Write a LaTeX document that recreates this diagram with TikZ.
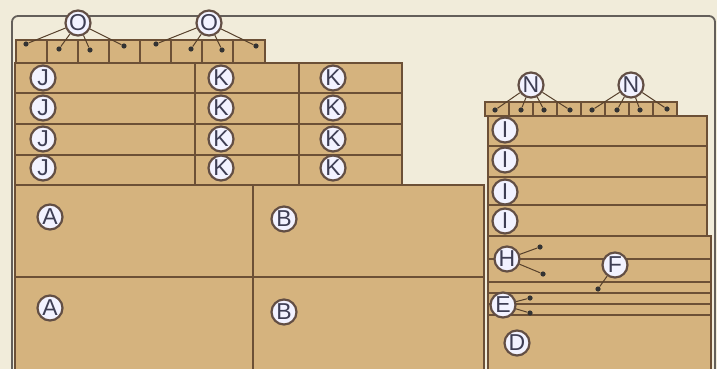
\documentclass[tikz,border=0pt]{standalone}
\usepackage{fontspec}
\setmainfont{Liberation Sans}
\definecolor{paper}{RGB}{241,236,218}
\definecolor{wood}{RGB}{213,179,126}
\definecolor{woodline}{RGB}{108,80,54}
\definecolor{ring}{RGB}{98,78,68}
\definecolor{ink}{RGB}{62,62,84}
\definecolor{frameline}{RGB}{100,95,90}

\begin{document}
\begin{tikzpicture}[x=0.5pt,y=-0.5pt,
  board/.style={fill=wood,draw=woodline,line width=0.6pt},
  seam/.style={draw=woodline,line width=0.6pt},
  tag/.style={circle,draw=ring,fill=white!95!blue,line width=1.1pt,minimum size=12.5pt,inner sep=0pt,text=ink,font=\fontsize{11.5}{12}\selectfont},
  pin/.style={circle,fill=black!80,inner sep=0pt,minimum size=2.6pt},
  lead/.style={draw=woodline!80!black,line width=0.5pt}]
  \useasboundingbox[fill=paper] (0,0) rectangle (717,369);
  \draw[frameline,line width=0.9pt,rounded corners=3pt] (12,375)--(12,16)--(715,16)--(715,375);
  % left stack
  \draw[board] (16,40) rectangle (265,63);
  \draw[seam] (47,40)--(47,63) (78,40)--(78,63) (109,40)--(109,63) (140,40)--(140,63);
  \draw[seam] (171,40)--(171,63) (202,40)--(202,63) (233,40)--(233,63);
  \draw[board] (15,63) rectangle (402,185);
  \draw[seam] (15,93)--(402,93) (15,124)--(402,124) (15,155)--(402,155);
  \draw[seam] (195,63)--(195,185) (299,63)--(299,185);
  \draw[board] (15,185) rectangle (484,375);
  \draw[seam] (15,277)--(484,277) (253,185)--(253,375);
  % right stack
  \draw[board] (485,102) rectangle (677,116);
  \draw[seam] (509,102)--(509,116) (533,102)--(533,116) (557,102)--(557,116) (581,102)--(581,116);
  \draw[seam] (605,102)--(605,116) (629,102)--(629,116) (653,102)--(653,116);
  \draw[board] (488,116) rectangle (707,236);
  \draw[seam] (488,146)--(707,146) (488,177)--(707,177) (488,205)--(707,205);
  \draw[board] (488,236) rectangle (711,375);
  \draw[seam] (488,259)--(711,259) (488,282)--(711,282) (488,293)--(711,293);
  \draw[seam] (488,304)--(711,304) (488,315)--(711,315);
  % pins
  \node[pin] (o1a) at (26,44) {};
  \node[pin] (o1b) at (59,49) {};
  \node[pin] (o1c) at (90,50) {};
  \node[pin] (o1d) at (124,46) {};
  \node[pin] (o2a) at (156,44) {};
  \node[pin] (o2b) at (191,49) {};
  \node[pin] (o2c) at (222,50) {};
  \node[pin] (o2d) at (256,46) {};
  \node[pin] (n1a) at (495,110) {};
  \node[pin] (n1b) at (521,110) {};
  \node[pin] (n1c) at (544,110) {};
  \node[pin] (n1d) at (570,110) {};
  \node[pin] (n2a) at (592,110) {};
  \node[pin] (n2b) at (617,110) {};
  \node[pin] (n2c) at (640,110) {};
  \node[pin] (n2d) at (667,109) {};
  \node[pin] (ha) at (540,247) {};
  \node[pin] (hb) at (543,274) {};
  \node[pin] (fa) at (598,289) {};
  \node[pin] (ea) at (530,298) {};
  \node[pin] (eb) at (530,313) {};
  % labels
  \node[tag] (o1) at (78,23) {O};
  \node[tag] (o2) at (209,23) {O};
  \node[tag] (j1) at (43,78) {J};
  \node[tag] (j2) at (43,108) {J};
  \node[tag] (j3) at (43,139) {J};
  \node[tag] (j4) at (43,168) {J};
  \node[tag] (k1) at (221,78) {K};
  \node[tag] (k2) at (221,108) {K};
  \node[tag] (k3) at (221,139) {K};
  \node[tag] (k4) at (221,168) {K};
  \node[tag] (k5) at (333,78) {K};
  \node[tag] (k6) at (333,108) {K};
  \node[tag] (k7) at (333,139) {K};
  \node[tag] (k8) at (333,168) {K};
  \node[tag] (a1) at (50,217) {A};
  \node[tag] (a2) at (50,308) {A};
  \node[tag] (b1) at (284,219) {B};
  \node[tag] (b2) at (284,312) {B};
  \node[tag] (n1) at (531,85) {N};
  \node[tag] (n2) at (631,85) {N};
  \node[tag] (i1) at (505,130) {I};
  \node[tag] (i2) at (505,160) {I};
  \node[tag] (i3) at (505,192) {I};
  \node[tag] (i4) at (505,221) {I};
  \node[tag] (h) at (507,259) {H};
  \node[tag] (f) at (615,265) {F};
  \node[tag] (e) at (503,305) {E};
  \node[tag] (d) at (517,343) {D};
  % leads
  \draw[lead] (o1)--(o1a) (o1)--(o1b) (o1)--(o1c) (o1)--(o1d);
  \draw[lead] (o2)--(o2a) (o2)--(o2b) (o2)--(o2c) (o2)--(o2d);
  \draw[lead] (n1)--(n1a) (n1)--(n1b) (n1)--(n1c) (n1)--(n1d);
  \draw[lead] (n2)--(n2a) (n2)--(n2b) (n2)--(n2c) (n2)--(n2d);
  \draw[lead] (h)--(ha) (h)--(hb);
  \draw[lead] (f)--(fa);
  \draw[lead] (e)--(ea) (e)--(eb);
\end{tikzpicture}
\end{document}
